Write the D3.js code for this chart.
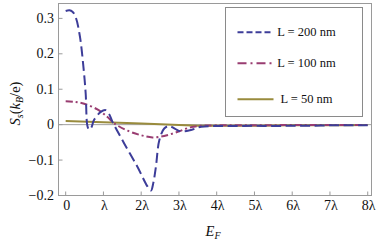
<!DOCTYPE html>
<html><head><meta charset="utf-8">
<script src="https://cdn.jsdelivr.net/npm/d3@7"></script>
<style>body{margin:0;background:#fff}svg{display:block}</style>
</head><body>
<script>
// x in units of lambda
const blueX = [0,0.1,0.18,0.27,0.38,0.47,0.53,0.576,0.62,0.68,0.75,0.93,1.06,1.15,1.24,1.55,1.9,2.17,2.26,2.32,2.39,2.48,2.61,2.74,2.9,3.05,3.32,3.59,4.0,4.5,5.0,5.5,6.0,6.5,7.0,7.5,8.0];
const blueY = [0.321,0.323,0.319,0.302,0.247,0.163,0.088,-0.004,-0.014,-0.008,0.013,0.036,0.041,0.030,0.008,-0.053,-0.119,-0.175,-0.186,-0.165,-0.119,-0.044,-0.011,-0.004,-0.012,-0.019,-0.015,-0.006,-0.004,-0.004,-0.003,-0.004,-0.003,-0.003,-0.002,-0.002,-0.002];
const purpX = [0,0.25,0.49,0.84,1.1,1.28,1.64,2.0,2.3,2.61,2.97,3.32,3.59,4.0,5.0,6.0,7.0,8.0];
const purpY = [0.066,0.064,0.059,0.043,0.022,0.004,-0.017,-0.030,-0.036,-0.032,-0.020,-0.007,-0.003,-0.002,-0.002,-0.001,-0.001,-0.001];
const oliveX = [0,1,2,3,3.5,4,5,6,7,8];
const oliveY = [0.010,0.007,0.003,-0.001,-0.003,-0.003,-0.003,-0.002,-0.002,-0.001];
const seriesNames = ["L = 200 nm","L = 100 nm","L = 50 nm"];
const colors = ["#3d3d99","#993d71","#998b3d"];
const dashes = ["10,4.5","7,3,2,3",null];
const xTicks = [0,1,2,3,4,5,6,7,8];
const xTickLabels = ["0","λ","2λ","3λ","4λ","5λ","6λ","7λ","8λ"];
const yTicks = [-0.2,-0.1,0,0.1,0.2,0.3];
const yTickLabels = ["−0.2","−0.1","0","0.1","0.2","0.3"];

const W=390,H=245;
const FONT="Liberation Serif";
const svg=d3.select("body").append("svg").attr("width",W).attr("height",H);
const pL=58.5,pR=371.5,pT=3.5,pB=195.5;
const x=d3.scaleLinear().domain([-0.19,8.1]).range([pL,pR]);
const y=d3.scaleLinear().domain([-0.2,0.342]).range([pB,pT]);
const frameCol="#9a9a9a";

// zero line
svg.append("line").attr("x1",pL).attr("x2",pR).attr("y1",y(0)).attr("y2",y(0))
  .attr("stroke","#a0a0a0").attr("stroke-width",1);

const sets=[[blueX,blueY],[purpX,purpY],[oliveX,oliveY]];
const line=d3.line().x(d=>x(d[0])).y(d=>y(d[1])).curve(d3.curveCatmullRom.alpha(0.5));
[2,1,0].forEach(i=>{
  const pts=sets[i][0].map((v,k)=>[v,sets[i][1][k]]);
  const p=svg.append("path").attr("d",line(pts)).attr("fill","none")
    .attr("stroke",colors[i]).attr("stroke-width",2).attr("stroke-linecap","butt");
  if(dashes[i]) p.attr("stroke-dasharray",dashes[i]);
});

// frame
svg.append("rect").attr("x",pL).attr("y",pT).attr("width",pR-pL).attr("height",pB-pT)
  .attr("fill","none").attr("stroke",frameCol).attr("stroke-width",1);

// x ticks
xTicks.forEach((t,i)=>{
  svg.append("line").attr("x1",x(t)).attr("x2",x(t)).attr("y1",pB).attr("y2",pB-4)
    .attr("stroke",frameCol);
  svg.append("text").attr("x",x(t)+1).attr("y",210).attr("text-anchor","middle")
    .attr("font-family",FONT).attr("font-size",14).attr("fill","#111").text(xTickLabels[i]);
});
// y ticks
yTicks.forEach((t,i)=>{
  svg.append("line").attr("x1",pL).attr("x2",pL+4).attr("y1",y(t)).attr("y2",y(t))
    .attr("stroke",frameCol);
  svg.append("text").attr("x",54).attr("y",y(t)+4.5).attr("text-anchor","end")
    .attr("font-family",FONT).attr("font-size",14).attr("fill","#111").text(yTickLabels[i]);
});

// axis labels
const xl=svg.append("text").attr("x",213).attr("y",236).attr("text-anchor","middle")
  .attr("font-family",FONT).attr("font-size",14.5).attr("fill","#111");
xl.append("tspan").attr("font-style","italic").text("E");
xl.append("tspan").attr("font-style","italic").attr("font-size",10).attr("dy",3).text("F");

const yl=svg.append("text").attr("transform","translate(20,103.5) rotate(-90)")
  .attr("text-anchor","middle").attr("font-family",FONT).attr("font-size",14.5).attr("fill","#111");
yl.append("tspan").attr("font-style","italic").text("S");
yl.append("tspan").attr("font-style","italic").attr("font-size",10).attr("dy",3).text("s");
yl.append("tspan").attr("dy",-3).text("(");
yl.append("tspan").attr("font-style","italic").text("k");
yl.append("tspan").attr("font-style","italic").attr("font-size",10).attr("dy",3).text("B");
yl.append("tspan").attr("dy",-3).text("/e)");

// legend
svg.append("rect").attr("x",225.5).attr("y",7.5).attr("width",137).attr("height",109)
  .attr("fill","#fff").attr("stroke","#8a8a8a").attr("stroke-width",1);
const ly=[32.3,63.3,99.3];
seriesNames.forEach((n,i)=>{
  const l=svg.append("line").attr("x1",237.5).attr("x2",273.5).attr("y1",ly[i]).attr("y2",ly[i])
    .attr("stroke",colors[i]).attr("stroke-width",2);
  if(dashes[i]) l.attr("stroke-dasharray",i===0?"6,3":"9,4,2,4");
  svg.append("text").attr("x",306.5).attr("y",ly[i]+4).attr("text-anchor","middle")
    .attr("font-family",FONT).attr("font-size",12.5).attr("fill","#111").text(n);
});
</script>
</body></html>
